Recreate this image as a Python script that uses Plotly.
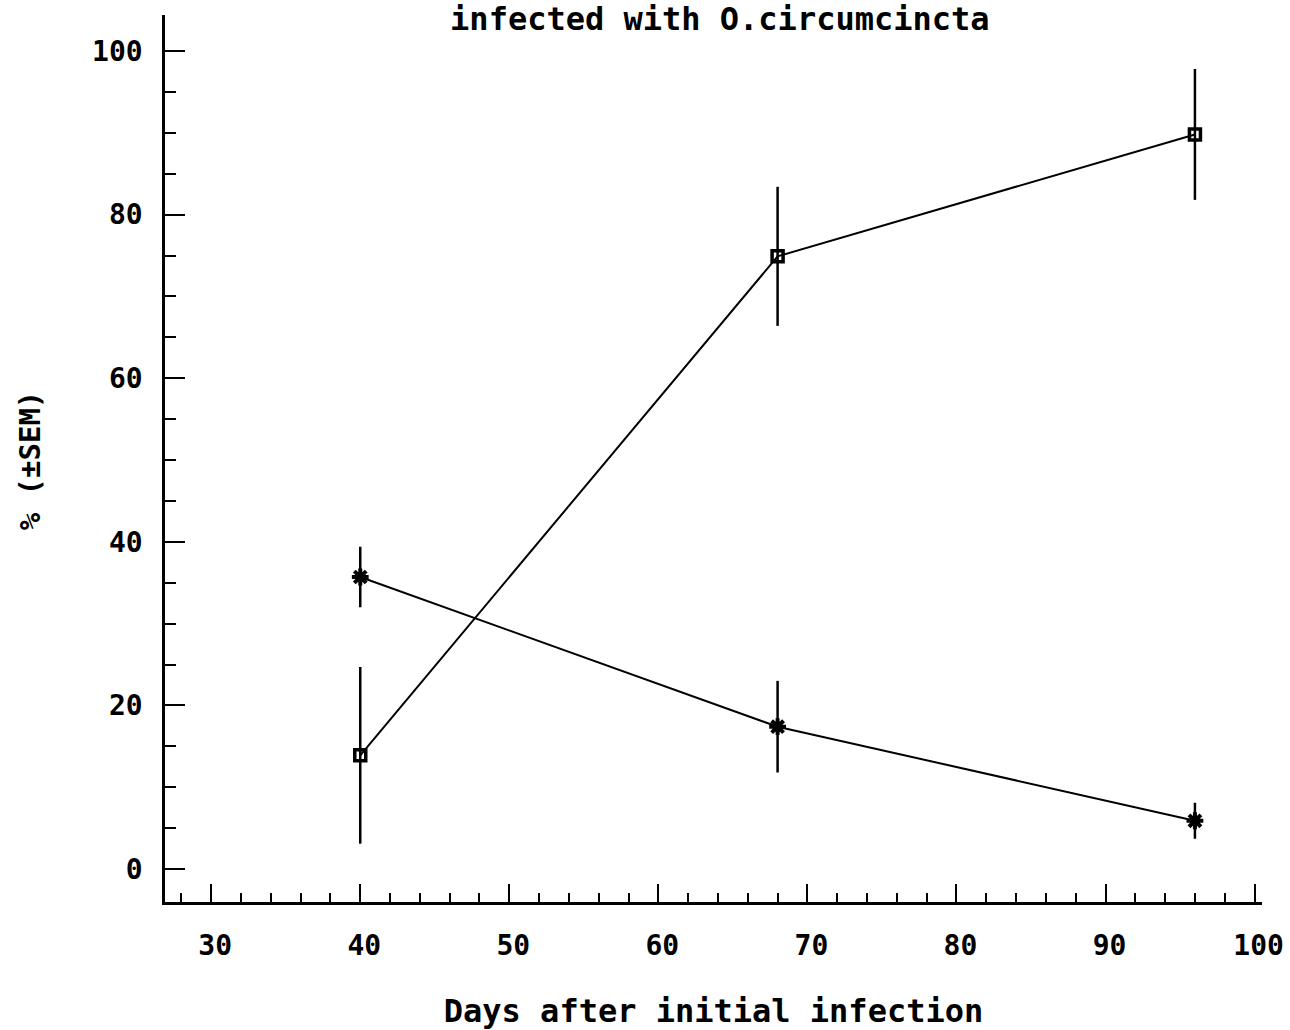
import plotly.graph_objects as go

days = [40, 68, 96]
sq_vals = [13.9, 74.9, 89.8]
sq_err = [10.8, 8.5, 8.0]
star_vals = [35.7, 17.4, 5.9]
star_err = [3.7, 5.6, 2.2]

x_ticks = [30, 40, 50, 60, 70, 80, 90, 100]
y_ticks = [0, 20, 40, 60, 80, 100]

FONT = "DejaVu Sans Mono"

fig = go.Figure()
fig.add_trace(go.Scatter(
    x=days, y=sq_vals, mode="lines+markers",
    line=dict(color="black", width=2),
    marker=dict(symbol="square-open", size=11, color="black", line=dict(width=3.5, color="black")),
    error_y=dict(type="data", array=sq_err, visible=True, color="black", thickness=2.5, width=0),
    showlegend=False,
))
fig.add_trace(go.Scatter(
    x=days, y=star_vals, mode="lines+markers",
    line=dict(color="black", width=2),
    marker=dict(symbol="asterisk-open", size=14, color="black", line=dict(width=4, color="black")),
    error_y=dict(type="data", array=star_err, visible=True, color="black", thickness=2.5, width=0),
    showlegend=False,
))

fig.update_layout(
    width=1290, height=1030,
    margin=dict(l=165, r=28, t=15, b=128),
    paper_bgcolor="white", plot_bgcolor="white",
    font=dict(family=FONT, color="black"),
    title=dict(text="<b>infected with O.circumcincta</b>", x=0.558, xanchor="center",
               y=0.9816, yanchor="middle", font=dict(family=FONT, size=32, color="black")),
    annotations=[dict(
        text="<b>% (±SEM)</b>", textangle=-90, xref="paper", yref="paper",
        x=-0.123, y=0.498, xanchor="center", yanchor="middle", showarrow=False,
        font=dict(family=FONT, size=29, color="black"),
    )],
)
fig.update_xaxes(
    range=[26.9, 100.5], showgrid=False, zeroline=False, automargin=False,
    showline=True, linecolor="black", linewidth=2.5,
    tickmode="array", tickvals=x_ticks, ticktext=[f"<b>{v}</b>" for v in x_ticks],
    ticks="inside", ticklen=18, tickwidth=2, tickcolor="black",
    minor=dict(dtick=2, tick0=0, ticks="inside", ticklen=9, tickwidth=2, tickcolor="black"),
    tickfont=dict(family=FONT, size=28, color="black"),
    ticklabelstandoff=17, ticklabelshift=4,
    title=dict(text="<b>Days after initial infection</b>", standoff=45,
               font=dict(family=FONT, size=32, color="black")),
)
fig.update_yaxes(
    range=[-4.03, 104.4], showgrid=False, zeroline=False, automargin=False,
    showline=True, linecolor="black", linewidth=2.5,
    tickmode="array", tickvals=y_ticks, ticktext=[f"<b>{v}</b>" for v in y_ticks],
    ticks="inside", ticklen=20, tickwidth=2, tickcolor="black",
    minor=dict(dtick=5, tick0=0, ticks="inside", ticklen=11, tickwidth=2, tickcolor="black"),
    tickfont=dict(family=FONT, size=28, color="black"),
    ticklabelstandoff=14,
)

fig.write_html("out.html")
